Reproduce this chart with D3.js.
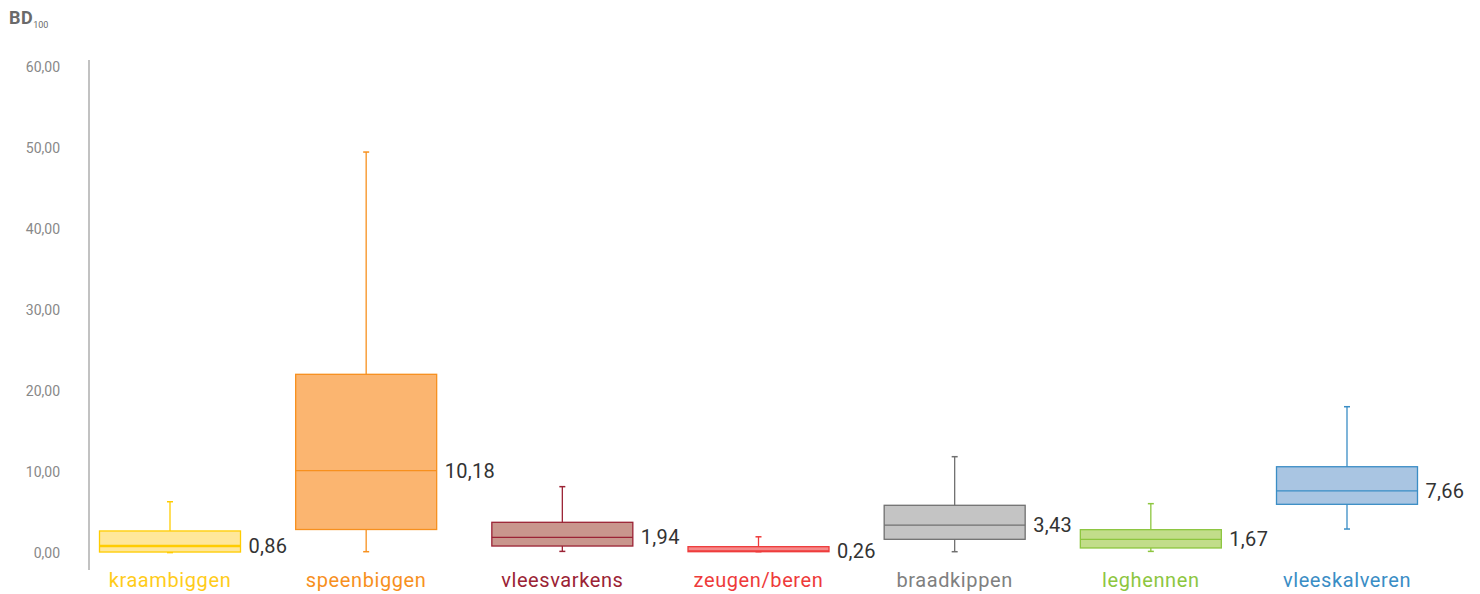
<!DOCTYPE html>
<html>
<head>
<meta charset="utf-8">
<script src="https://cdnjs.cloudflare.com/ajax/libs/d3/7.8.5/d3.min.js"></script>
<style>
  body { margin: 0; background: #fff; }
  svg { display: block; font-family: Roboto, "DejaVu Sans", sans-serif; }
</style>
</head>
<body>
<svg id="chart" width="1480" height="594"></svg>
<script>
// data
var categories = ["kraambiggen", "speenbiggen", "vleesvarkens", "zeugen/beren", "braadkippen", "leghennen", "vleeskalveren"];
var whiskerLow  = [0.05, 0.16, 0.2, 0.16, 0.16, 0.2, 2.96];
var q1          = [0.12, 2.9, 0.86, 0.16, 1.69, 0.62, 6.01];
var medians     = [0.86, 10.18, 1.94, 0.26, 3.43, 1.67, 7.66];
var q3          = [2.72, 22.06, 3.79, 0.78, 5.89, 2.88, 10.65];
var whiskerHigh = [6.33, 49.5, 8.19, 2.0, 11.89, 6.09, 18.06];
var yTicks = [0, 10, 20, 30, 40, 50, 60];

var strokeColors = ["#ffcc00", "#f7901e", "#9b2335", "#ee3a3a", "#707070", "#8dc63f", "#3a8dc5"];
var fillColors   = ["#ffe79a", "#fbb570", "#c9968d", "#f58a8a", "#c4c4c4", "#c2dd8a", "#a9c5e2"];
var labelColors  = ["#ffcc1a", "#f7901e", "#9b2335", "#ee3a3a", "#808080", "#8dc63f", "#3a8dc5"];

var fmt = function(v) { return d3.format(".2f")(v).replace(".", ","); };

var svg = d3.select("#chart");

var y = d3.scaleLinear().domain([0, 60]).range([553, 67]);
var x = d3.scalePoint().domain(categories).range([170, 1347]);
var boxW = 141;

// title
var title = svg.append("text")
  .attr("x", 9).attr("y", 24)
  .style("font-size", "18px").style("font-weight", "bold").style("fill", "#6a6a6a")
  .style("letter-spacing", "0.5px");
title.append("tspan").text("BD");
title.append("tspan").attr("dy", 4).style("font-size", "9px").style("font-weight", "normal")
  .style("letter-spacing", "0px").text("100");

// y axis
svg.append("line")
  .attr("x1", 89).attr("x2", 89).attr("y1", 60).attr("y2", 570)
  .style("stroke", "#999").style("stroke-width", 1.2);

svg.append("g").selectAll("text")
  .data(yTicks).enter().append("text")
  .attr("x", 60).attr("y", function(d) { return y(d); })
  .attr("dy", "0.35em")
  .attr("text-anchor", "end")
  .style("font-size", "14px").style("fill", "#888")
  .text(function(d) { return fmt(d); });

// boxes
var boxes = svg.append("g").selectAll("g")
  .data(categories).enter().append("g");

boxes.append("line")
  .attr("x1", function(d) { return x(d); }).attr("x2", function(d) { return x(d); })
  .attr("y1", function(d, i) { return y(whiskerHigh[i]); })
  .attr("y2", function(d, i) { return y(whiskerLow[i]); })
  .style("stroke", function(d, i) { return strokeColors[i]; })
  .style("stroke-width", 1.3);

boxes.selectAll(".cap")
  .data(function(d, i) { return [{c: d, v: whiskerHigh[i], i: i}, {c: d, v: whiskerLow[i], i: i}]; })
  .enter().append("line")
  .attr("x1", function(d) { return x(d.c) - 3; }).attr("x2", function(d) { return x(d.c) + 3; })
  .attr("y1", function(d) { return y(d.v); }).attr("y2", function(d) { return y(d.v); })
  .style("stroke", function(d) { return strokeColors[d.i]; })
  .style("stroke-width", 1.5);

boxes.append("rect")
  .attr("x", function(d) { return x(d) - boxW / 2; })
  .attr("width", boxW)
  .attr("y", function(d, i) { return y(q3[i]); })
  .attr("height", function(d, i) { return y(q1[i]) - y(q3[i]); })
  .style("fill", function(d, i) { return fillColors[i]; })
  .style("stroke", function(d, i) { return strokeColors[i]; })
  .style("stroke-width", 1.3);

boxes.append("line")
  .attr("x1", function(d) { return x(d) - boxW / 2; })
  .attr("x2", function(d) { return x(d) + boxW / 2; })
  .attr("y1", function(d, i) { return y(medians[i]); })
  .attr("y2", function(d, i) { return y(medians[i]); })
  .style("stroke", function(d, i) { return strokeColors[i]; })
  .style("stroke-width", function(d, i) { return i == 0 ? 2.5 : 1.3; });

boxes.append("text")
  .attr("x", function(d) { return x(d) + boxW / 2 + 8; })
  .attr("y", function(d, i) { return y(medians[i]); })
  .attr("dy", "0.35em")
  .style("font-size", "20px").style("fill", "#333")
  .style("letter-spacing", "0.3px")
  .text(function(d, i) { return fmt(medians[i]); });

boxes.append("text")
  .attr("x", function(d) { return x(d); })
  .attr("y", 587)
  .attr("text-anchor", "middle")
  .style("font-size", "20px")
  .style("letter-spacing", "0.6px")
  .style("fill", function(d, i) { return labelColors[i]; })
  .text(function(d) { return d; });
</script>
</body>
</html>
